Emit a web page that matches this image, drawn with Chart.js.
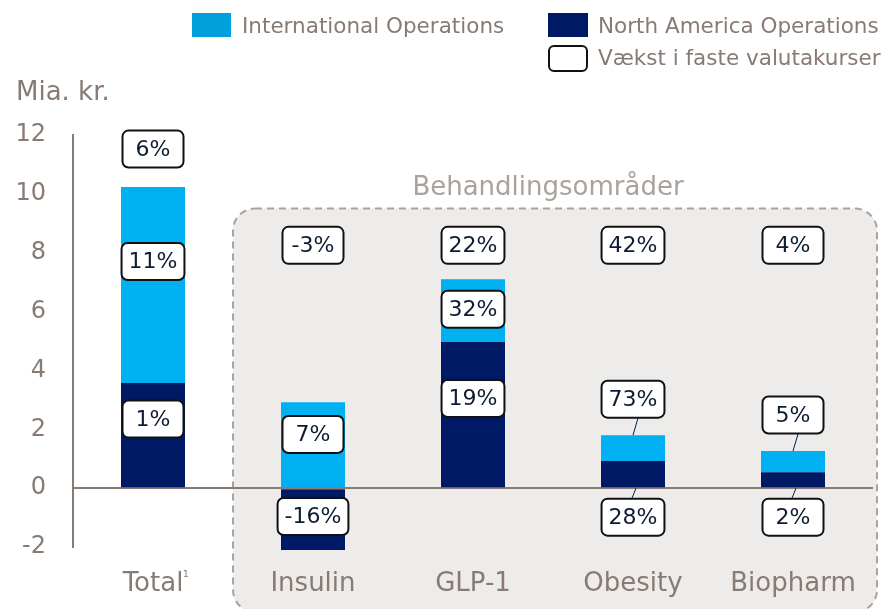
<!DOCTYPE html>
<html>
<head>
<meta charset="utf-8">
<script src="https://cdn.jsdelivr.net/npm/chart.js@4"></script>
<style>
  body { margin: 0; background: #ffffff; }
  canvas { display: block; }
</style>
</head>
<body>
<canvas id="salesChart" width="882" height="609"></canvas>
<script>
// Data (Mia. kr.)
const categories = ['Total', 'Insulin', 'GLP-1', 'Obesity', 'Biopharm'];
const northAmerica = [3.57, -2.1, 4.97, 0.92, 0.54];
const international = [6.66, 2.92, 2.13, 0.88, 0.72];
const totalGrowth = ['6%', '-3%', '22%', '42%', '4%'];
const intlGrowth = ['11%', '7%', '32%', '73%', '5%'];
const naGrowth = ['1%', '-16%', '19%', '28%', '2%'];
const yMin = -2;
const yMax = 12;
const yStep = 2;

const INTL_COLOR = '#00b0f0';
const NA_COLOR = '#001965';
const GREY_TEXT = '#877b73';
const LABEL_TEXT = '#0d1b33';
const FONT = '"DejaVu Sans", Verdana, sans-serif';

// Draws one rounded growth box, centred on (cx, cy)
function growthBox(ctx, text, cx, cy) {
    ctx.save();
    ctx.font = '22px ' + FONT;
    const w = Math.max(61, ctx.measureText(text).width + 14);
    const h = 37;
    ctx.beginPath();
    ctx.roundRect(cx - w / 2, cy - h / 2, w, h, 6);
    ctx.fillStyle = '#ffffff';
    ctx.fill();
    ctx.lineWidth = 2;
    ctx.strokeStyle = '#111111';
    ctx.stroke();
    ctx.fillStyle = LABEL_TEXT;
    ctx.textAlign = 'center';
    ctx.textBaseline = 'middle';
    ctx.fillText(text, cx, cy + 1);
    ctx.restore();
}

function leader(ctx, x1, y1, x2, y2) {
    ctx.save();
    ctx.strokeStyle = NA_COLOR;
    ctx.lineWidth = 1;
    ctx.beginPath();
    ctx.moveTo(x1, y1);
    ctx.lineTo(x2, y2);
    ctx.stroke();
    ctx.restore();
}

// Background, grey "Behandlingsområder" panel
const panelPlugin = {
    id: 'panel',
    beforeDraw(chart) {
        const ctx = chart.ctx;
        const x = chart.scales.x;
        const y = chart.scales.y;
        ctx.save();
        ctx.fillStyle = '#ffffff';
        ctx.fillRect(0, 0, chart.width, chart.height);

        const left = (x.getPixelForTick(0) + x.getPixelForTick(1)) / 2;
        const right = chart.chartArea.right + 4;
        const top = y.getPixelForValue(9.5);
        const bottom = chart.height + 3;
        ctx.beginPath();
        ctx.roundRect(left, top, right - left, bottom - top, 22);
        ctx.fillStyle = '#edeceb';
        ctx.fill();
        ctx.setLineDash([7, 5]);
        ctx.lineWidth = 2;
        ctx.strokeStyle = '#aaa39d';
        ctx.stroke();

        ctx.font = '26px ' + FONT;
        ctx.fillStyle = '#aaa39d';
        ctx.textAlign = 'center';
        ctx.textBaseline = 'middle';
        ctx.fillText('Behandlingsområder', (left + right) / 2 - 7, top - 20);
        ctx.restore();
    }
};

// Growth boxes, leader lines, legend, unit and footnote
const labelPlugin = {
    id: 'labels',
    afterDraw(chart) {
        const ctx = chart.ctx;
        const y = chart.scales.y;
        const zero = y.getPixelForValue(0);
        const naMeta = chart.getDatasetMeta(0);
        const intlMeta = chart.getDatasetMeta(1);

        categories.forEach((c, i) => {
            const cx = naMeta.data[i].x;
            const naBar = naMeta.data[i];
            const intlBar = intlMeta.data[i];
            const barTop = intlBar.y;

            // total growth: above the bar for Total, a fixed row inside the panel
            const rowY = i === 0 ? barTop - 38 : y.getPixelForValue(8.25);
            growthBox(ctx, totalGrowth[i], cx, rowY);

            // international segment
            const intlH = intlBar.base - intlBar.y;
            if (intlH > 45) {
                growthBox(ctx, intlGrowth[i], cx, intlBar.y + Math.max(intlH * 0.38, 30));
            } else {
                const ly = barTop - 36;
                leader(ctx, cx + 5, ly + 19, cx, barTop);
                growthBox(ctx, intlGrowth[i], cx, ly);
            }

            // north america segment
            const naH = Math.abs(naBar.base - naBar.y);
            if (naH > 45) {
                const mid = (naBar.y + naBar.base) / 2;
                growthBox(ctx, naGrowth[i], cx, northAmerica[i] < 0 ? mid - 3 : mid - 16);
            } else {
                const ly = zero + 29;
                leader(ctx, cx + 3, zero, cx - 1, ly - 19);
                growthBox(ctx, naGrowth[i], cx, ly);
            }
        });

        ctx.save();
        // unit
        ctx.font = '26px ' + FONT;
        ctx.fillStyle = GREY_TEXT;
        ctx.textBaseline = 'middle';
        ctx.textAlign = 'left';
        ctx.fillText('Mia. kr.', 16, 93);

        // footnote mark after "Total"
        ctx.font = '9px ' + FONT;
        ctx.fillText('1', 183, 575);

        // legend
        ctx.fillStyle = '#00a0dc';
        ctx.fillRect(192, 13, 39, 24);
        ctx.fillStyle = NA_COLOR;
        ctx.fillRect(548, 13, 40, 24);
        ctx.beginPath();
        ctx.roundRect(549, 46, 38, 25, 5);
        ctx.fillStyle = '#ffffff';
        ctx.fill();
        ctx.lineWidth = 2;
        ctx.strokeStyle = '#111111';
        ctx.stroke();

        ctx.font = '21.5px ' + FONT;
        ctx.fillStyle = GREY_TEXT;
        ctx.fillText('International Operations', 242, 27);
        ctx.fillText('North America Operations', 598, 27);
        ctx.fillText('Vækst i faste valutakurser', 598, 59);
        ctx.restore();
    }
};

const chart = new Chart(document.getElementById('salesChart'), {
    type: 'bar',
    data: {
        labels: categories,
        datasets: [
            {
                label: 'North America Operations',
                data: northAmerica,
                backgroundColor: NA_COLOR,
                categoryPercentage: 1,
                barPercentage: 0.4,
                clip: false
            },
            {
                label: 'International Operations',
                data: international,
                backgroundColor: INTL_COLOR,
                categoryPercentage: 1,
                barPercentage: 0.4,
                clip: false
            }
        ]
    },
    options: {
        responsive: false,
        devicePixelRatio: 1,
        animation: false,
        layout: {
            padding: { top: 135, right: 9, bottom: 0, left: 0 }
        },
        scales: {
            x: {
                stacked: true,
                grid: { display: false, drawTicks: false },
                border: { display: false },
                ticks: {
                    color: GREY_TEXT,
                    padding: 22,
                    font: { family: FONT, size: 26 }
                },
                afterFit: (scale) => { scale.height = 62; }
            },
            y: {
                stacked: true,
                min: yMin,
                max: yMax,
                ticks: {
                    stepSize: yStep,
                    color: GREY_TEXT,
                    padding: 27,
                    font: { family: FONT, size: 24 }
                },
                grid: {
                    drawTicks: false,
                    lineWidth: 2,
                    color: (c) => c.tick && c.tick.value === 0 ? GREY_TEXT : 'transparent'
                },
                border: { display: true, color: GREY_TEXT, width: 2 },
                afterFit: (scale) => { scale.width = 73; }
            }
        },
        plugins: {
            legend: { display: false },
            tooltip: { enabled: false }
        }
    },
    plugins: [panelPlugin, labelPlugin]
});
</script>
</body>
</html>
